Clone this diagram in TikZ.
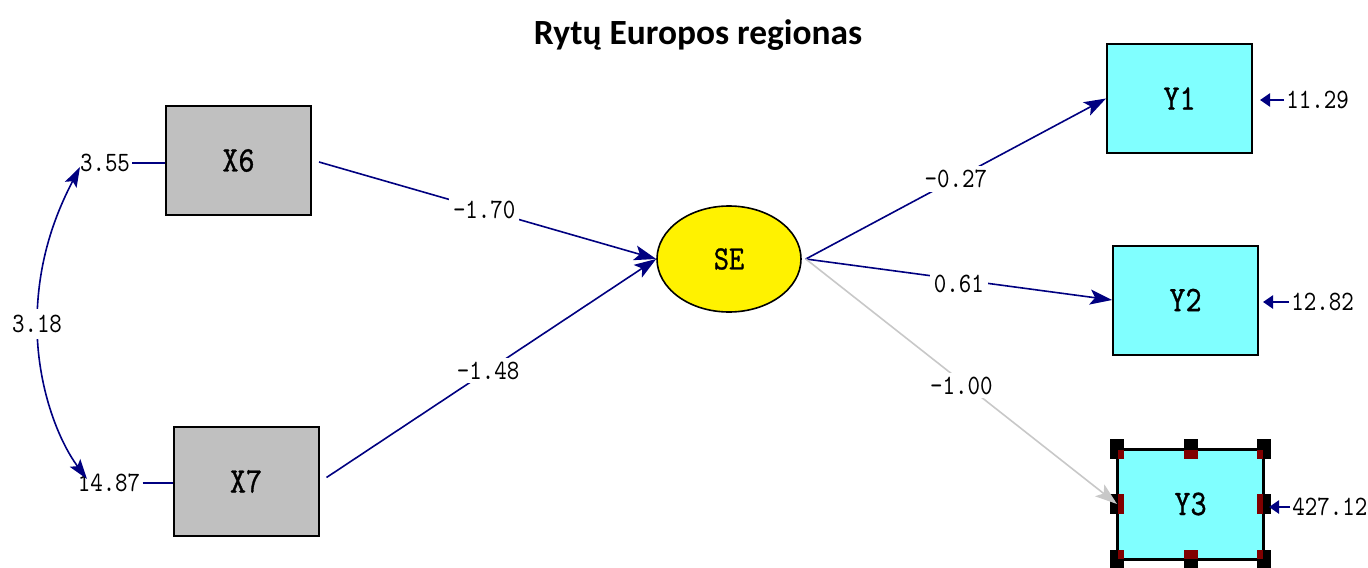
\documentclass[tikz,border=0pt]{standalone}
\usepackage{fontspec}
\usetikzlibrary{arrows.meta,shapes.geometric}
\newfontfamily\titlefont{Carlito}
\newfontfamily\lisfont{lmmono10-regular.otf}[FakeStretch=0.85]
\newfontfamily\lisnodefont{lmmono10-regular.otf}[FakeStretch=0.85,FakeBold=0.8]
\definecolor{navy}{RGB}{0,0,128}
\definecolor{xgray}{RGB}{192,192,192}
\definecolor{ycyan}{RGB}{128,255,255}
\definecolor{lgray}{RGB}{200,200,200}
\definecolor{hred}{RGB}{128,0,0}
\tikzset{
  obs/.style={draw=black, line width=1pt, minimum width=72.5pt, minimum height=54.5pt, inner sep=0pt, font=\lisnodefont\fontsize{18}{18}\selectfont},
  xbox/.style={obs, fill=xgray},
  ybox/.style={obs, fill=ycyan},
  lat/.style={ellipse, draw=black, line width=0.8pt, fill=yellow, minimum width=72pt, minimum height=53pt, inner sep=0pt, font=\lisnodefont\fontsize{17}{17}\selectfont},
  regpath/.style={draw=navy, line width=0.8pt, -{Stealth[length=11pt,width=7.5pt,inset=2.5pt]}},
  greypath/.style={draw=lgray, line width=0.8pt, -{Stealth[length=11pt,width=7.5pt,inset=2.5pt]}},
  lbl/.style={font=\lisfont\fontsize{14}{14}\selectfont, inner sep=1pt, text=black},
  elbl/.style={lbl, fill=white, inner sep=2pt},
  errarr/.style={draw=navy, line width=1.3pt, -{Stealth[length=5pt,width=6.5pt,inset=0pt]}},
  errline/.style={draw=navy, line width=0.9pt},
  covar/.style={draw=navy, line width=0.8pt, {Stealth[length=10pt,width=6.5pt,inset=2pt]}-{Stealth[length=10pt,width=6.5pt,inset=2pt]}},
}
\begin{document}
\begin{tikzpicture}[x=0.5pt,y=-0.5pt]
\useasboundingbox (0,0) rectangle (1368,567);

\node (title) at (698,35) {\titlefont\bfseries\fontsize{17.7}{17.7}\selectfont Rytų Europos regionas};

% nodes
\node[xbox] (X6) at (238.5,160.5) {X6};
\node[xbox] (X7) at (246,481.5) {X7};
\node[lat] (SE) at (729,259) {SE};
\node[ybox] (Y1) at (1179.5,98.5) {Y1};
\node[ybox] (Y2) at (1185.5,300) {Y2};
\node[ybox] (Y3) at (1190.5,504) {Y3};

% selection handles on Y3
\foreach \a in {north west,north,north east,west,east,south west,south,south east}
  \fill[black] (Y3.\a) ++(-7,-10) rectangle ++(14,20);
\begin{scope}
  \clip (Y3.north west) rectangle (Y3.south east);
  \foreach \a in {north west,north,north east,west,east,south west,south,south east}
    \fill[hred] (Y3.\a) ++(-7,-10) rectangle ++(14,20);
\end{scope}
\draw[line width=1pt] (Y3.north west) rectangle (Y3.south east);

% structural paths
\draw[regpath] ([xshift=3.5pt,yshift=-0.75pt]X6.east) -- (SE.west) node[elbl, pos=0.49] (l170) {-1.70};
\draw[regpath] ([xshift=3.5pt,yshift=2pt]X7.east) -- (SE.west) node[elbl, pos=0.49] (l148) {-1.48};
\draw[regpath] ([xshift=2pt]SE.east) -- (Y1.west) node[elbl, pos=0.5] (l027) {-0.27};
\draw[regpath] ([xshift=2pt]SE.east) -- (Y2.west) node[elbl, pos=0.5, yshift=-2pt] (l061) {0.61};
\draw[greypath] ([xshift=2pt]SE.east) -- (Y3.west) node[elbl, pos=0.5, yshift=-2pt] (l100) {-1.00};

% error terms
\node[lbl] (e6) at (105,163) {3.55};
\node[lbl] (e7) at (109,483) {14.87};
\draw[errline] (e6.east) -- (e6.east -| X6.west);
\draw[errline] (e7.east) -- (e7.east -| X7.west);

\node[lbl, anchor=west] (e1) at (1284,100) {11.29};
\node[lbl, anchor=west] (e2) at (1289,302) {12.82};
\node[lbl, anchor=west] (e3) at (1290,507) {427.12};
\draw[errarr] (e1.west) -- ([xshift=3.5pt]e1.west -| Y1.east);
\draw[errarr] (e2.west) -- ([xshift=2pt]e2.west -| Y2.east);
\draw[errarr] (e3.west) -- ([xshift=2.5pt]e3.west -| Y3.east);

% covariance
\coordinate (ct) at (80,167);
\coordinate (cb) at (87,479);
\draw[covar] (ct) .. controls (55,215) and (37,262) .. (37,324) node[lbl, fill=white, inner sep=3pt] (c318) {3.18} .. controls (37,386) and (58,440) .. (cb);
\end{tikzpicture}
\end{document}
